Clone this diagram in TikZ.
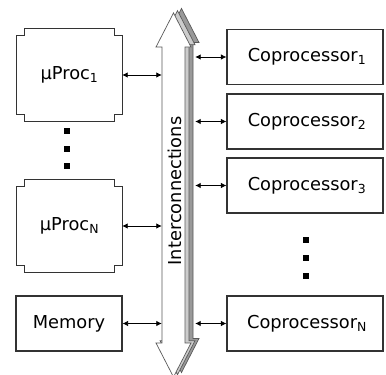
\documentclass[tikz,border=0pt]{standalone}
\usepackage{fontspec}
\setmainfont{DejaVu Sans}
\usetikzlibrary{arrows.meta,calc}
\begin{document}
\begin{tikzpicture}[x=1pt,y=-1pt,
  lbl/.style={font=\fontsize{17.8}{21}\selectfont},
  box/.style={draw=black!80, line width=1.1pt, fill=white, inner sep=0, lbl},
  chipbody/.style={inner sep=0, minimum width=105pt, minimum height=92pt, lbl},
  copro/.style={box, minimum width=156pt, minimum height=55pt},
  link/.style={{Latex[length=5.5pt,width=5.5pt]}-{Latex[length=5.5pt,width=5.5pt]}, line width=0.8pt},
  dotsq/.style={fill=black, minimum size=6pt, inner sep=0},
  busline/.style={draw=black!65, line width=0.7pt}]

\useasboundingbox (0,0) rectangle (386,375);

% shaft of the interconnection bus
\node[inner sep=0, minimum width=23pt, minimum height=296pt] (bus) at (173.5,195) {};
\coordinate (busR) at ($(bus.east)+(10,0)$);

% extruded depth of the bus arrow
\foreach \dx/\dy/\col in {8/4.5/gray!80, 4/2.3/gray!40} {
  \begin{scope}[shift={(\dx,-\dy)}]
    \filldraw[busline, fill=\col]
      (162,47) -- (156,47) -- (173.5,13) -- (191,47) -- (185,47) --
      (185,343) -- (191,343) -- (173.5,377) -- (156,343) -- (162,343) -- cycle;
  \end{scope}
}
% front face of the bus arrow
\filldraw[busline, fill=white]
  (162,47) -- (156,47) -- (173.5,13) -- (191,47) -- (185,47) --
  (185,343) -- (191,343) -- (173.5,377) -- (156,343) -- (162,343) -- cycle;
\node[lbl, rotate=90] (bustxt) at (175,191) {Interconnections};

% processors (chip outlines with notched corners)
\node[chipbody] (p1) at (69.5,75) {µProc\textsubscript{1}};
\node[chipbody] (pn) at (69.5,226) {µProc\textsubscript{N}};
\foreach \c in {p1,pn} {
  \draw[draw=black!80, line width=1.1pt]
    ($(\c.north west)+(8,0)$) -- ($(\c.north east)+(-8,0)$) -- ++(0,7) -- ++(8,0) --
    ($(\c.south east)+(0,-7)$) -- ++(-8,0) -- ++(0,7) --
    ($(\c.south west)+(8,0)$) -- ++(0,-7) -- ++(-8,0) --
    ($(\c.north west)+(0,7)$) -- ++(8,0) -- cycle;
}
\node[box, minimum width=106pt, minimum height=55pt] (mem) at (69,323.5) {Memory};

% ellipsis between the processors
\node[dotsq] (ld1) at (67,131) {};
\node[dotsq] (ld2) at (67,148.5) {};
\node[dotsq] (ld3) at (67,166) {};

% coprocessors
\node[copro] (c1) at (305,57) {\hspace{4pt}Coprocessor\textsubscript{1}};
\node[copro] (c2) at (305,121.5) {\hspace{4pt}Coprocessor\textsubscript{2}};
\node[copro] (c3) at (305,185.5) {\hspace{4pt}Coprocessor\textsubscript{3}};
\node[copro] (cn) at (305,323.5) {\hspace{4pt}Coprocessor\textsubscript{N}};

\node[dotsq] (rd1) at (306,240) {};
\node[dotsq] (rd2) at (306,258) {};
\node[dotsq] (rd3) at (306,276) {};

% links to the bus
\foreach \c in {p1,pn,mem}
  \draw[link] (\c.east) -- (\c.east -| bus.west);
\foreach \c in {c1,c2,c3,cn}
  \draw[link] (\c.west -| busR) -- (\c.west);
\end{tikzpicture}
\end{document}
